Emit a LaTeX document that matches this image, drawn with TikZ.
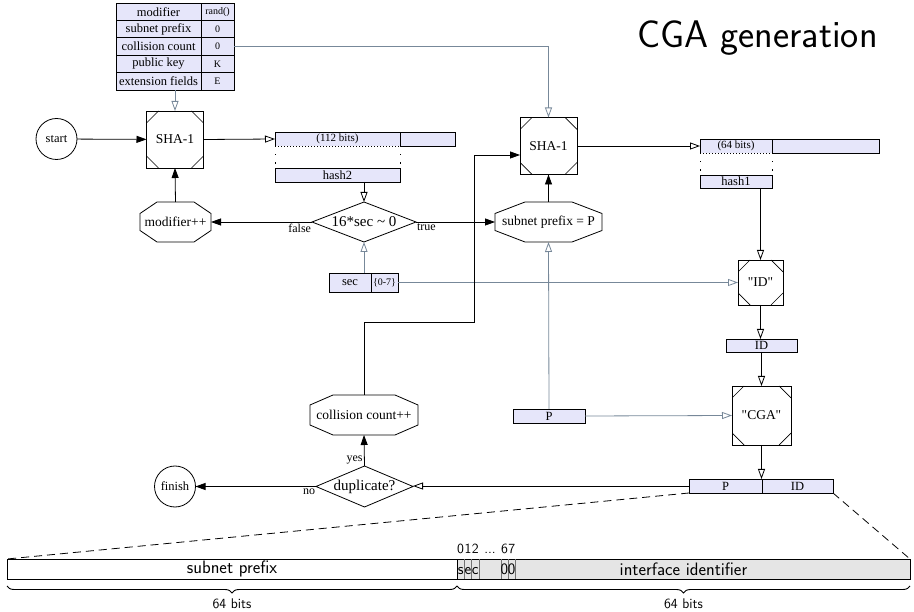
\documentclass[tikz,border=0pt]{standalone}
\usepackage{fontspec}
\newfontfamily\gvfont{Liberation Serif}
\usetikzlibrary{arrows.meta,shapes.geometric,calc,decorations.pathreplacing}
\definecolor{lav}{HTML}{E6E6FA}
\definecolor{slate}{HTML}{778899}
\definecolor{iidgray}{HTML}{E5E5E5}

\begin{document}
\begin{tikzpicture}[x=1pt,y=-1pt,
  every node/.style={inner sep=0pt, outer sep=0pt},
  gv/.style={font=\gvfont\fontsize{13.5}{15}\selectfont},
  rec/.style={draw, fill=lav, line width=0.8pt, font=\gvfont\fontsize{12.5}{14}\selectfont},
  recsmall/.style={rec, font=\gvfont\fontsize{10}{12}\selectfont},
  msq/.style={draw, line width=0.8pt, gv, minimum width=#1, minimum height=#1,
    path picture={
      \draw[line width=0.7pt] ([xshift=12pt]path picture bounding box.north west) -- ([yshift=-12pt]path picture bounding box.north west);
      \draw[line width=0.7pt] ([xshift=-12pt]path picture bounding box.north east) -- ([yshift=-12pt]path picture bounding box.north east);
      \draw[line width=0.7pt] ([xshift=12pt]path picture bounding box.south west) -- ([yshift=12pt]path picture bounding box.south west);
      \draw[line width=0.7pt] ([xshift=-12pt]path picture bounding box.south east) -- ([yshift=12pt]path picture bounding box.south east);
    }},
  octo/.style={gv, minimum height=40},
  circ/.style={circle, draw, line width=0.8pt, minimum size=41, font=\gvfont\fontsize{12.5}{14}\selectfont},
  diam/.style={diamond, draw, line width=0.8pt, aspect=2.6, font=\gvfont\fontsize{15}{17}\selectfont},
  lbl/.style={font=\gvfont\fontsize{12}{14}\selectfont},
  conn/.style={line width=0.8pt, draw=black},
  fa/.style={conn, -{Triangle[length=10pt,width=7pt]}},
  oa/.style={conn, -{Triangle[open,length=10pt,width=7pt]}},
  ga/.style={line width=0.8pt, draw=slate, -{Triangle[open,length=10pt,width=7pt]}},
  dots/.style={line width=0.8pt, dash pattern=on 1.2pt off 7pt},
  sans/.style={font=\sffamily\fontsize{18}{20}\selectfont},
  bitlbl/.style={font=\sffamily\fontsize{14}{16}\selectfont},
]
\useasboundingbox (0,0) rectangle (914,612);

% title
\node[font=\sffamily\fontsize{38.5}{42}\selectfont, anchor=base] (title) at (757.5,48) {CGA generation};

% parameter table
\node[rec, minimum width=85, minimum height=17.4] (fMod) at (158.5,11.7) {modifier};
\node[recsmall, minimum width=33, minimum height=17.4] (vMod) at (217.5,11.7) {rand()};
\node[rec, minimum width=85, minimum height=17.4] (fPre) at (158.5,29.1) {subnet prefix};
\node[recsmall, minimum width=33, minimum height=17.4] (vPre) at (217.5,29.1) {0};
\node[rec, minimum width=85, minimum height=17.4] (fCol) at (158.5,46.5) {collision count};
\node[recsmall, minimum width=33, minimum height=17.4] (vCol) at (217.5,46.5) {0};
\node[rec, minimum width=85, minimum height=17.4] (fKey) at (158.5,63.9) {public key};
\node[recsmall, minimum width=33, minimum height=17.4] (vKey) at (217.5,63.9) {K};
\node[rec, minimum width=85, minimum height=17.4] (fExt) at (158.5,81.3) {extension fields};
\node[recsmall, minimum width=33, minimum height=17.4] (vExt) at (217.5,81.3) {E};

% first loop: hash2
\node[circ] (start) at (56.5,139) {start};
\node[msq=57] (shaA) at (175,139.5) {SHA-1};
\node[octo, minimum width=71] (mod) at (175.5,222) {modifier++};
\node[diam, minimum width=104, minimum height=40] (test) at (364,222) {16*sec \textasciitilde{} 0};
\node[fill=lav, minimum width=125, minimum height=14, font=\gvfont\fontsize{11}{13}\selectfont] (h112) at (337.5,139) {(112 bits)};
\node[rec, minimum width=55, minimum height=14] (h112b) at (427.5,139) {};
\draw[line width=0.8pt] (h112.south west) -- (h112.north west) -- (h112.north east) -- (h112.south east);
\draw[line width=0.8pt, dash pattern=on 1pt off 2pt] (h112.south west) -- (h112.south east);
\node[rec, minimum width=125, minimum height=14] (hash2) at (337.5,175) {hash2};
\node[rec, minimum width=42, minimum height=19] (secL) at (350,282.5) {sec};
\node[recsmall, minimum width=27, minimum height=19] (sec07) at (384.5,282.5) {\{0-7\}};

% second loop: hash1
\node[octo, minimum width=107] (subP) at (548.5,222) {subnet prefix = P};
\node[msq=57] (shaB) at (548.5,146) {SHA-1};
\node[fill=lav, minimum width=72, minimum height=14, font=\gvfont\fontsize{11}{13}\selectfont] (h64) at (736,146) {(64 bits)};
\node[rec, minimum width=107, minimum height=14] (h64b) at (825.5,146) {};
\draw[line width=0.8pt] (h64.south west) -- (h64.north west) -- (h64.north east) -- (h64.south east);
\draw[line width=0.8pt, dash pattern=on 1pt off 2pt] (h64.south west) -- (h64.south east);
\node[rec, minimum width=72, minimum height=13] (hash1) at (736,181.5) {hash1};
\node[msq=45] (idq) at (760.5,282.5) {"ID"};
\node[rec, minimum width=71, minimum height=13] (idR) at (761.5,345.5) {ID};
\node[msq=59] (cga) at (761.5,415.5) {"CGA"};
\node[rec, minimum width=72, minimum height=14] (pR) at (549,416) {P};
\node[rec, minimum width=73, minimum height=14] (pidP) at (725.5,486) {P};
\node[rec, minimum width=71, minimum height=14] (pidID) at (797.5,486) {ID};
\node[diam, minimum width=97, minimum height=41] (dup) at (364.5,486.5) {duplicate?};
\node[circ] (finish) at (175,486.5) {finish};
\node[octo, minimum width=108] (ccinc) at (364,415) {collision count++};
\coordinate (bend) at (474,322);

% octagon outlines
\foreach \n/\cx/\cy in {mod/17/11.5, subP/30/11.5, ccinc/23/10}{
  \draw[line width=0.8pt] ($(\n.north west)+(\cx,0)$) -- ($(\n.north east)+(-\cx,0)$)
    -- ($(\n.north east)+(0,\cy)$) -- ($(\n.south east)+(0,-\cy)$)
    -- ($(\n.south east)+(-\cx,0)$) -- ($(\n.south west)+(\cx,0)$)
    -- ($(\n.south west)+(0,-\cy)$) -- ($(\n.north west)+(0,\cy)$) -- cycle;
}

% hash field extraction
\draw[dots] (h112.south west) -- (hash2.north west);
\draw[dots] (h112.south east) -- (hash2.north east);
\draw[dots] (h64.south west) -- (hash1.north west);
\draw[dots] (h64.south east) -- (hash1.north east);

% connectors
\draw[ga] (fExt.south -| shaA.north) -- (shaA.north);
\draw[ga] (vCol.east) -| (shaB.north);
\draw[fa] (start) -- (shaA);
\draw[oa] (shaA.east) -- (h112.west);
\draw[oa] (hash2.south -| test.north) -- (test.north);
\draw[fa] (test.west) -- (mod.east);
\draw[fa] (mod.north) -- (shaA.south);
\draw[ga] (test.south |- secL.north) -- (test.south);
\draw[ga] (sec07.east) -- (idq.west);
\draw[fa] (test.east) -- (subP.west);
\draw[fa] (subP.north) -- (shaB.south);
\draw[fa] (ccinc.north) |- (bend) |- ($(shaB.west)+(0,9)$);
\draw[oa] (shaB.east) -- (h64.west);
\draw[oa] (hash1.south -| idq.north) -- (idq.north);
\draw[oa] (idq.south) -- (idq.south |- idR.north);
\draw[oa] (cga.north |- idR.south) -- (cga.north);
\draw[ga] (pR.north) -- (subP.south);
\draw[ga] (pR.east) -- (cga.west);
\draw[oa] (cga.south) -- (cga.south |- pidP.north);
\draw[oa] (pidP.west) -- (pidP.west -| dup.east);
\draw[fa] (dup.west) -- (finish.east);
\draw[fa] (dup.north) -- (ccinc.south);

% branch labels
\node[lbl, anchor=north east] (lfalse) at ([xshift=-1pt,yshift=-2pt]test.west) {false};
\node[lbl, anchor=north west] (ltrue) at ([xshift=1pt,yshift=-2pt]test.east) {true};
\node[lbl, anchor=north east] (lno) at ([xshift=-1pt,yshift=-2pt]dup.west) {no};
\node[lbl, anchor=south east] (lyes) at ([xshift=-2pt,yshift=2pt]dup.north) {yes};

% address layout
\node[draw, line width=0.8pt, fill=white, minimum width=450, minimum height=20, sans] (sp) at (232,569) {subnet prefix};
\node[draw, line width=0.8pt, fill=iidgray, minimum width=453, minimum height=20, sans] (iid) at (683.5,569) {interface identifier};
\foreach \x in {464.3,471.6,478.9,500.8,508.1,515.4}{
  \draw[black!55, line width=0.6pt] (\x,559) -- (\x,579);
}
\draw[line width=0.8pt] (iid.north west) -- (iid.south west);
\foreach \x/\t [count=\k] in {460.65/s,467.95/e,475.25/c,504.45/0,511.75/0}{
  \node[font=\sffamily\fontsize{16}{18}\selectfont, anchor=base] (bit\k) at (\x,574.5) {\t};
}
\foreach \x/\t [count=\k] in {460.65/0,467.95/1,475.25/2,504.45/6,511.75/7}{
  \node[bitlbl, anchor=base] (idx\k) at (\x,553) {\t};
}
\node[bitlbl, anchor=base] (idxdots) at (490,553) {...};
\draw[line width=0.8pt, dash pattern=on 8pt off 5pt] (pidP.south west) -- (sp.north west);
\draw[line width=0.8pt, dash pattern=on 8pt off 5pt] (pidID.south east) -- (iid.north east);
\draw[line width=0.9pt, decorate, decoration={brace, mirror, amplitude=7pt}]
  ($(sp.south west)+(0,7)$) -- ($(sp.south east)+(0,7)$);
\draw[line width=0.9pt, decorate, decoration={brace, mirror, amplitude=7pt}]
  ($(iid.south west)+(0,7)$) -- ($(iid.south east)+(0,7)$);
\node[bitlbl] (bitsA) at (232,604) {64 bits};
\node[bitlbl] (bitsB) at (683.5,604) {64 bits};
\end{tikzpicture}
\end{document}
